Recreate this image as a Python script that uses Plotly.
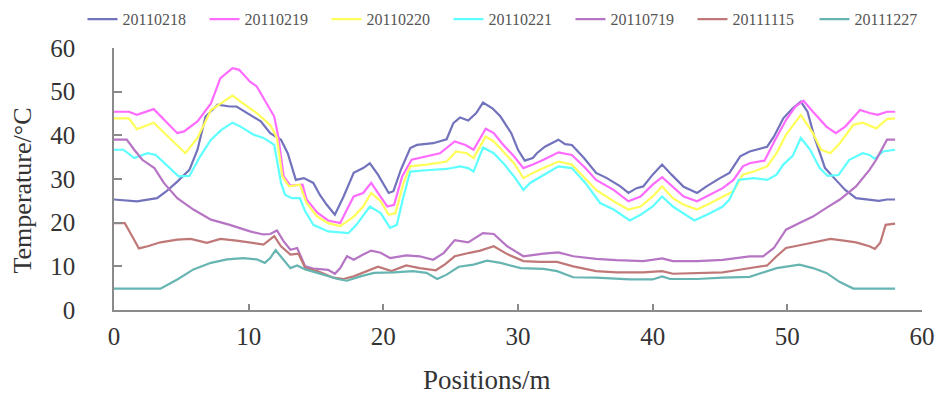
import plotly.graph_objects as go

names = ["20110218", "20110219", "20110220", "20110221", "20110719", "20111115", "20111227"]
colors = ["#7272bd", "#ff6bff", "#ffff5a", "#5effff", "#b674c4", "#c07777", "#66b5b2"]

x_0218 = [0, 1.7, 3.2, 3.9, 4.7, 5.6, 6.2, 6.8, 7.7, 8.6, 9.1, 10.1, 10.9, 11.6, 12.4, 12.9, 13.5, 14.1, 14.8, 15.3, 15.8, 16.4, 17.05, 17.8, 18.5, 19.0, 19.6, 20.4, 20.75, 21.3, 22.0, 22.5, 23.7, 24.7, 25.2, 25.7, 26.3, 26.9, 27.4, 28.1, 28.7, 29.5, 30.0, 30.5, 31.1, 31.4, 32.0, 33.0, 33.5, 34.0, 34.9, 35.8, 36.6, 37.6, 38.2, 38.8, 39.3, 40.0, 40.7, 41.4, 42.3, 43.3, 44.0, 45.0, 45.7, 46.5, 47.2, 48.5, 49.0, 49.7, 50.4, 51.0, 51.5, 52.0, 52.8, 53.6, 54.3, 55.1, 56.1, 56.8, 57.4, 58.0]
y_0218 = [25.3, 24.9, 25.6, 27.2, 29.4, 32.1, 36.7, 44.3, 47.0, 46.6, 46.6, 44.7, 43.2, 40.5, 39.0, 35.9, 29.8, 30.2, 29.1, 26.3, 24.1, 21.8, 26.0, 31.4, 32.5, 33.6, 31.0, 26.8, 27.2, 32.1, 37.1, 37.8, 38.2, 39.1, 42.8, 44.1, 43.4, 45.1, 47.5, 46.2, 44.3, 40.5, 36.7, 34.2, 34.8, 35.9, 37.4, 39.0, 38.0, 37.8, 34.8, 31.4, 30.2, 28.3, 26.8, 27.9, 28.3, 31.0, 33.3, 31.0, 28.2, 26.8, 28.3, 30.2, 31.4, 35.2, 36.3, 37.4, 39.7, 43.9, 46.2, 47.7, 45.4, 39.7, 32.5, 29.8, 27.5, 25.6, 25.3, 25.0, 25.3, 25.3]

x_0219 = [0, 1.1, 1.7, 2.95, 4.7, 5.2, 6.2, 7.2, 7.9, 8.8, 9.3, 10.1, 10.6, 11.4, 11.9, 12.2, 12.6, 13.1, 14.0, 14.3, 15.1, 15.9, 16.8, 17.3, 17.8, 18.5, 19.1, 19.6, 20.3, 20.8, 21.4, 22.1, 23.0, 24.2, 25.3, 26.1, 26.7, 27.6, 28.2, 28.8, 29.7, 30.4, 31.1, 31.9, 33.0, 34.0, 35.0, 35.8, 37.1, 38.2, 39.1, 40.0, 40.7, 41.5, 42.3, 43.3, 44.3, 45.2, 46.0, 46.7, 47.2, 48.3, 49.1, 49.9, 50.6, 51.2, 51.9, 52.9, 53.6, 54.3, 55.4, 56.1, 56.7, 57.4, 58.0]
y_0219 = [45.4, 45.4, 44.7, 46.0, 40.5, 40.9, 43.2, 47.3, 53.1, 55.4, 55.0, 52.3, 51.2, 47.0, 44.3, 39.7, 30.6, 28.5, 28.7, 25.3, 22.3, 20.5, 19.9, 23.0, 26.0, 26.8, 29.1, 26.8, 23.7, 24.1, 30.6, 34.4, 35.0, 35.9, 38.6, 37.8, 36.7, 41.5, 40.5, 38.2, 35.2, 32.5, 33.3, 34.4, 36.1, 35.5, 32.5, 29.8, 27.5, 24.9, 26.0, 28.7, 30.4, 28.3, 26.0, 24.9, 26.4, 27.9, 29.8, 32.9, 33.6, 34.2, 39.0, 43.5, 46.6, 47.9, 45.4, 42.0, 40.5, 42.0, 45.8, 45.1, 44.7, 45.4, 45.4]

x_0220 = [0, 1.1, 1.7, 2.95, 5.3, 6.2, 7.2, 7.9, 8.8, 9.4, 10.6, 11.6, 12.1, 12.5, 13.0, 13.8, 14.3, 15.1, 15.9, 16.8, 17.8, 18.5, 19.1, 19.8, 20.4, 20.9, 21.5, 22.0, 23.2, 24.7, 25.4, 26.2, 26.7, 27.6, 28.2, 28.9, 29.7, 30.4, 31.1, 31.9, 33.0, 34.0, 35.0, 35.8, 37.1, 38.2, 39.1, 40.0, 40.7, 41.5, 42.3, 43.3, 44.3, 45.2, 46.0, 46.7, 47.5, 48.5, 49.2, 49.9, 51.0, 51.9, 52.5, 53.2, 53.9, 54.9, 55.6, 56.6, 57.4, 58.0]
y_0220 = [43.9, 43.9, 41.4, 42.9, 35.9, 39.4, 45.8, 47.3, 49.1, 47.7, 45.1, 42.4, 39.4, 30.6, 28.3, 28.7, 24.5, 21.4, 19.9, 19.2, 21.4, 23.7, 26.8, 24.9, 21.8, 22.2, 29.1, 32.9, 33.3, 34.0, 36.3, 35.9, 34.8, 39.7, 38.6, 36.3, 33.6, 30.2, 31.4, 32.5, 34.0, 33.3, 30.2, 27.5, 24.9, 23.0, 23.7, 26.0, 28.3, 25.6, 24.1, 23.0, 24.5, 26.0, 27.2, 31.0, 31.7, 32.9, 35.9, 40.1, 44.7, 40.5, 36.7, 35.9, 38.2, 42.4, 42.9, 41.6, 43.7, 43.9]

x_0221 = [0, 0.7, 1.5, 2.5, 3.1, 3.9, 4.8, 5.6, 6.4, 7.2, 8.0, 8.8, 9.4, 10.4, 11.1, 11.9, 12.4, 12.7, 13.2, 13.8, 14.2, 14.8, 15.9, 17.4, 18.0, 19.0, 19.8, 20.5, 21.0, 21.5, 22.0, 23.2, 24.7, 25.7, 26.3, 26.7, 27.4, 28.2, 29.0, 29.8, 30.4, 30.9, 31.9, 33.0, 34.0, 35.0, 36.1, 37.1, 38.3, 39.1, 40.0, 40.7, 41.5, 42.3, 43.1, 44.3, 45.2, 45.7, 46.4, 47.5, 48.5, 49.2, 49.7, 50.4, 51.0, 51.7, 52.4, 53.0, 53.8, 54.6, 55.6, 56.1, 56.5, 57.1, 58.0]
y_0221 = [36.7, 36.7, 34.8, 35.9, 35.5, 33.3, 30.6, 30.7, 35.2, 39.0, 41.3, 42.9, 42.0, 40.1, 39.4, 37.8, 29.1, 26.4, 25.6, 25.6, 22.6, 19.5, 18.0, 17.6, 19.5, 23.7, 22.2, 18.8, 19.5, 26.0, 31.7, 32.0, 32.3, 32.9, 32.5, 31.7, 37.2, 35.9, 33.3, 30.2, 27.5, 29.1, 31.0, 32.9, 32.5, 29.1, 24.5, 23.0, 20.5, 21.8, 23.7, 26.0, 23.7, 22.2, 20.5, 22.2, 23.7, 25.3, 29.8, 30.2, 29.8, 31.0, 33.3, 35.3, 39.4, 36.7, 32.5, 30.7, 30.9, 34.4, 35.9, 35.5, 34.6, 36.3, 36.7]

x_0719 = [0, 0.95, 1.5, 2.1, 3.0, 3.7, 4.7, 5.9, 7.2, 8.6, 10.1, 11.1, 11.6, 12.1, 12.6, 13.1, 13.6, 14.2, 14.8, 15.9, 16.4, 16.8, 17.3, 17.8, 18.5, 19.1, 19.8, 20.5, 21.7, 22.7, 23.7, 24.5, 25.3, 26.3, 27.4, 28.2, 29.2, 30.4, 31.9, 33.0, 34.1, 35.8, 37.3, 39.3, 40.7, 41.5, 43.3, 45.2, 47.2, 48.2, 49.0, 49.9, 50.9, 51.9, 52.9, 53.9, 55.1, 56.1, 56.6, 57.4, 58.0]
y_0719 = [39.0, 39.0, 36.7, 34.4, 32.5, 29.1, 25.6, 23.0, 20.7, 19.5, 18.0, 17.3, 17.4, 18.2, 15.7, 13.8, 14.2, 10.0, 9.5, 9.2, 8.3, 9.6, 12.3, 11.5, 12.7, 13.6, 13.1, 11.9, 12.5, 12.3, 11.5, 13.1, 16.0, 15.5, 17.6, 17.4, 14.6, 12.3, 12.9, 13.2, 12.3, 11.7, 11.4, 11.2, 11.8, 11.2, 11.2, 11.5, 12.3, 12.3, 14.2, 18.4, 19.9, 21.4, 23.4, 25.3, 28.3, 32.1, 34.4, 39.0, 39.0]

x_1115 = [0, 0.8, 1.35, 1.85, 2.5, 3.45, 4.7, 5.7, 6.9, 7.9, 9.1, 10.1, 11.1, 11.9, 12.4, 13.1, 13.7, 14.2, 15.1, 16.3, 17.05, 17.8, 18.8, 19.6, 20.6, 21.7, 22.7, 23.9, 24.6, 25.3, 26.4, 27.2, 28.2, 29.2, 30.4, 31.6, 32.9, 34.1, 35.8, 37.3, 39.3, 40.7, 41.5, 43.3, 45.2, 46.2, 47.2, 48.5, 49.2, 49.9, 51.2, 52.2, 53.2, 54.2, 55.1, 56.1, 56.5, 56.9, 57.3, 58.0]
y_1115 = [19.9, 19.9, 16.9, 14.1, 14.6, 15.5, 16.1, 16.3, 15.4, 16.3, 15.9, 15.5, 15.0, 16.9, 14.6, 12.7, 12.9, 9.6, 8.9, 7.4, 7.1, 7.7, 8.9, 9.9, 8.9, 10.2, 9.6, 9.1, 10.5, 12.3, 13.1, 13.6, 14.6, 12.8, 11.2, 11.0, 11.0, 10.0, 8.9, 8.6, 8.6, 8.9, 8.3, 8.5, 8.6, 9.1, 9.6, 10.2, 12.3, 14.2, 15.0, 15.7, 16.3, 15.9, 15.5, 14.6, 14.0, 15.4, 19.5, 19.8]

x_1227 = [0, 3.45, 4.7, 5.9, 7.2, 8.4, 9.6, 10.6, 11.2, 11.6, 12.0, 12.5, 13.1, 13.6, 14.2, 15.1, 16.6, 17.3, 18.3, 19.3, 20.8, 22.2, 23.2, 24.0, 24.7, 25.6, 26.7, 27.7, 28.7, 30.2, 31.9, 32.9, 34.1, 35.8, 38.3, 40.0, 40.7, 41.3, 43.3, 45.2, 47.2, 49.2, 50.2, 50.9, 51.9, 52.9, 53.9, 54.9, 58.0]
y_1227 = [4.9, 4.9, 7.0, 9.3, 10.8, 11.6, 11.9, 11.6, 10.8, 11.9, 13.7, 11.9, 9.6, 10.2, 9.3, 8.5, 7.1, 6.7, 7.7, 8.5, 8.6, 8.9, 8.5, 7.1, 8.1, 9.9, 10.4, 11.3, 10.8, 9.6, 9.4, 8.9, 7.5, 7.4, 7.0, 7.0, 7.7, 7.1, 7.1, 7.4, 7.6, 9.6, 10.0, 10.4, 9.6, 8.5, 6.4, 4.9, 4.9]

xs = [x_0218, x_0219, x_0220, x_0221, x_0719, x_1115, x_1227]
ys = [y_0218, y_0219, y_0220, y_0221, y_0719, y_1115, y_1227]

x_ticks = [0, 10, 20, 30, 40, 50, 60]
y_ticks = [0, 10, 20, 30, 40, 50, 60]

FONT = "Liberation Serif"

fig = go.Figure()
for n, c, x, y in zip(names, colors, xs, ys):
    fig.add_trace(go.Scatter(x=x, y=y, mode="lines", name=n,
                             line=dict(color=c, width=2.2)))

axis_common = dict(showgrid=False, zeroline=False, showline=True,
                   linecolor="#8a8a8a", linewidth=1.5, ticks="inside",
                   tickcolor="#8a8a8a", tickwidth=1.5, mirror=False,
                   automargin=False,
                   tickfont=dict(family=FONT, size=25, color="#333333"))

fig.update_layout(
    width=943, height=398,
    margin=dict(l=113.5, r=21.3, t=48, b=87.5, autoexpand=False),
    paper_bgcolor="white", plot_bgcolor="white",
    showlegend=True,
    legend=dict(orientation="h", x=-0.039, y=1.175, xanchor="left", yanchor="top",
                font=dict(family=FONT, size=16, color="#555555"),
                entrywidth=77, entrywidthmode="pixels",
                bgcolor="rgba(0,0,0,0)", itemclick=False),
    xaxis=dict(range=[0, 60], tickvals=x_ticks, ticklen=6,
               ticklabelstandoff=3, **axis_common),
    yaxis=dict(range=[0, 60], tickvals=y_ticks, ticklen=8,
               ticklabelstandoff=32, **axis_common),
    annotations=[
        dict(text="Temperature/°C", xref="paper", yref="paper",
             x=-0.113, y=0.455, textangle=-90, showarrow=False,
             xanchor="center", yanchor="middle",
             font=dict(family=FONT, size=26, color="#333333")),
        dict(text="Positions/m", xref="paper", yref="paper",
             x=0.462, y=-0.269, showarrow=False,
             xanchor="center", yanchor="middle",
             font=dict(family=FONT, size=27, color="#333333")),
    ],
)

fig.write_html("out.html", config={"displayModeBar": False},
               post_script="document.body.style.margin='0';")
